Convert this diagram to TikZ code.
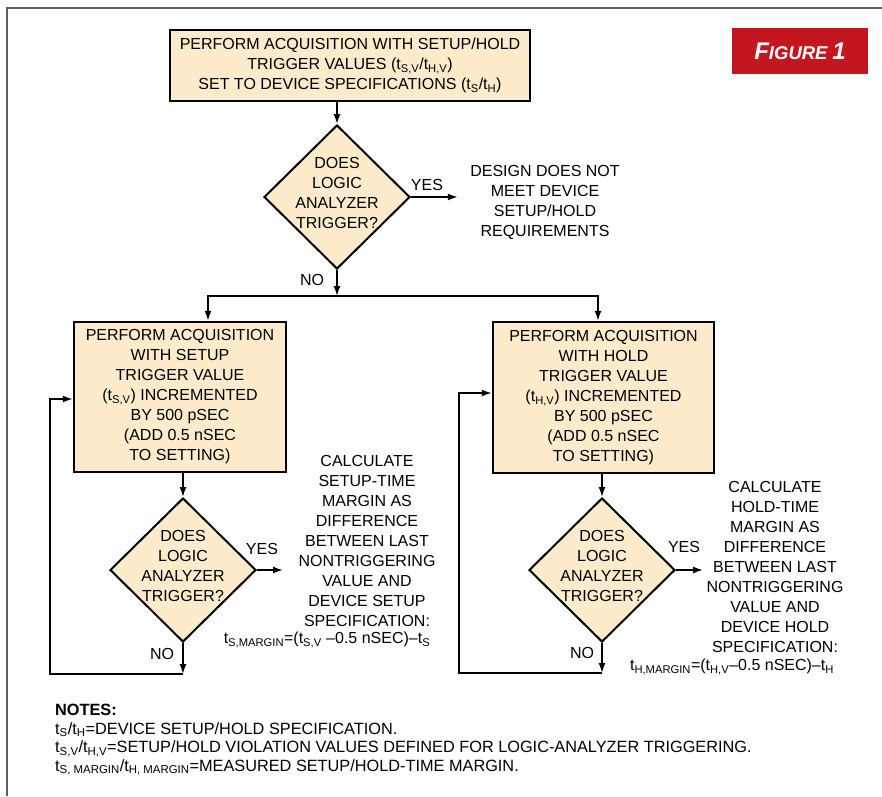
\documentclass[tikz,border=0pt]{standalone}
\usepackage{fontspec}
\setmainfont{Liberation Sans}
\usetikzlibrary{shapes.geometric,arrows.meta}
\definecolor{boxfill}{RGB}{253,235,204}
\definecolor{figred}{RGB}{196,22,30}
\definecolor{framegray}{RGB}{95,95,95}
\newcommand\sbs[1]{\textsubscript{#1}}

\begin{document}
\begin{tikzpicture}[x=1pt,y=-1pt,
 every node/.style={font=\fontsize{16}{20}\selectfont, align=center},
 proc/.style={draw, line width=2.5pt, fill=boxfill, inner sep=0pt},
 decide/.style={diamond, draw, line width=2pt, fill=boxfill, inner sep=0pt,
   minimum width=146pt, minimum height=144pt,
   label={[yshift=4pt]center:DOES\\LOGIC\\ANALYZER\\TRIGGER?}},
 flow/.style={line width=1.6pt, -{Latex[length=10pt,width=7pt]}}]
 \useasboundingbox (0,0) rectangle (882,796);
 \draw[framegray, line width=2pt] (882,8) -- (7,8) -- (7,796);

 \node[fill=figred, text=white, inner sep=0pt, minimum width=136pt, minimum height=46pt] (fig) at (800,51)
   {\bfseries\itshape{\fontsize{24}{24}\selectfont F}{\fontsize{18.5}{18.5}\selectfont IGURE}\hspace{0.3em}{\fontsize{24}{24}\selectfont 1}};

 \node[proc, minimum width=360pt, minimum height=71pt] (acq) at (350,65.5)
   {PERFORM ACQUISITION WITH SETUP/HOLD\\TRIGGER VALUES (t\sbs{S,V}/t\sbs{H,V})\\SET TO DEVICE SPECIFICATIONS (t\sbs{S}/t\sbs{H})};
 \node[decide] (dtop) at (337,197) {};
 \node (fail) at (545,202) {DESIGN DOES NOT\\MEET DEVICE\\SETUP/HOLD\\REQUIREMENTS};
 \node (yes0) at (427,185) {YES};
 \node (no0) at (312,280) {NO};

 \node[proc, minimum width=212pt, minimum height=150pt] (setup) at (180,397)
   {PERFORM ACQUISITION\\WITH SETUP\\TRIGGER VALUE\\(t\sbs{S,V}) INCREMENTED\\BY 500 pSEC\\(ADD 0.5 nSEC\\TO SETTING)};
 \node[decide] (dset) at (183,570) {};
 \node (scalc) at (367,541) {CALCULATE\\SETUP-TIME\\MARGIN AS\\DIFFERENCE\\BETWEEN LAST\\NONTRIGGERING\\VALUE AND\\DEVICE SETUP\\SPECIFICATION:};
 \node (smarg) at (327,640) {t\sbs{S,MARGIN}=(t\sbs{S,V} --0.5 nSEC)--t\sbs{S}};
 \node (yes1) at (262,549) {YES};
 \node (no1) at (162,654) {NO};

 \node[proc, minimum width=221pt, minimum height=151pt] (hold) at (603.5,397.5)
   {PERFORM ACQUISITION\\WITH HOLD\\TRIGGER VALUE\\(t\sbs{H,V}) INCREMENTED\\BY 500 pSEC\\(ADD 0.5 nSEC\\TO SETTING)};
 \node[decide] (dhold) at (602,570) {};
 \node (hcalc) at (775,567) {CALCULATE\\HOLD-TIME\\MARGIN AS\\DIFFERENCE\\BETWEEN LAST\\NONTRIGGERING\\VALUE AND\\DEVICE HOLD\\SPECIFICATION:};
 \node (hmarg) at (732,667) {t\sbs{H,MARGIN}=(t\sbs{H,V}--0.5 nSEC)--t\sbs{H}};
 \node (yes2) at (684,547) {YES};
 \node (no2) at (582,653) {NO};

 \node[anchor=north west, inner sep=0pt, align=left, font=\fontsize{16.3}{18.5}\selectfont] (notes) at (55,704)
   {\textbf{NOTES:}\\
    t\sbs{S}/t\sbs{H}=DEVICE SETUP/HOLD SPECIFICATION.\\
    t\sbs{S,V}/t\sbs{H,V}=SETUP/HOLD VIOLATION VALUES DEFINED FOR LOGIC-ANALYZER TRIGGERING.\\
    t\sbs{S, MARGIN}/t\sbs{H, MARGIN}=MEASURED SETUP/HOLD-TIME MARGIN.};

 \coordinate (split) at (337,296);
 \coordinate (sret) at (183,674);
 \coordinate (hret) at (602,673);

 \draw[flow] (acq.south -| dtop.north) -- (dtop.north);
 \draw[flow, shorten >=9pt] (dtop.east) -- (dtop.east -| fail.west);
 \draw[flow] (dtop.south) -- (split);
 \draw[flow] (split) -| ([xshift=28pt]setup.north);
 \draw[flow] (split) -| ([xshift=-5.5pt]hold.north);

 \draw[flow] (setup.south -| dset.north) -- (dset.north);
 \draw[flow, shorten >=12pt] (dset.east) -- (dset.east -| scalc.west);
 \draw[flow] (dset.south) -- (sret);
 \draw[flow] (sret) -- ++(-133,0) |- ([yshift=-2pt]setup.west);

 \draw[flow] (hold.south -| dhold.north) -- (dhold.north);
 \draw[flow] (dhold.east) -- (dhold.east -| hcalc.west);
 \draw[flow] (dhold.south) -- (hret);
 \draw[flow] (hret) -- ++(-143,0) |- ([yshift=4.5pt]hold.west);
\end{tikzpicture}
\end{document}
